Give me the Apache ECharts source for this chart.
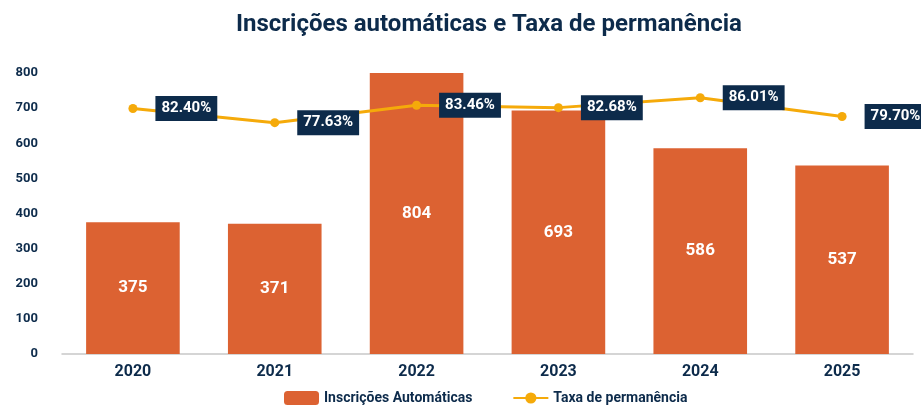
<!DOCTYPE html>
<html>
<head>
<meta charset="utf-8">
<script src="https://cdn.jsdelivr.net/npm/echarts@6/dist/echarts.min.js"></script>
<style>
  html, body { margin: 0; padding: 0; background: #fff; }
  #chart { width: 921px; height: 408px; }
</style>
</head>
<body>
<div id="chart"></div>
<script>
// data
const years = ['2020', '2021', '2022', '2023', '2024', '2025'];
const inscricoes = [375, 371, 804, 693, 586, 537];
const permanencia = [82.40, 77.63, 83.46, 82.68, 86.01, 79.70];

const navy = '#0d2b4b';
const barColor = '#dc6232';
const lineColor = '#f5aa0a';
const font = 'Roboto';

const chart = echarts.init(document.getElementById('chart'));

chart.setOption({
  animation: false,
  title: {
    text: 'Inscrições automáticas e Taxa de permanência',
    left: 231,
    top: 8,
    textStyle: { color: navy, fontFamily: font, fontWeight: 'bold', fontSize: 24 }
  },
  legend: {
    bottom: -2,
    left: 279,
    itemWidth: 35,
    itemHeight: 14,
    itemGap: 40,
    textStyle: { color: navy, fontFamily: font, fontWeight: 'bold', fontSize: 14 },
    data: ['Inscrições Automáticas', 'Taxa de permanência']
  },
  grid: { left: 62, right: 8, top: 73, bottom: 54 },
  xAxis: {
    type: 'category',
    data: years,
    axisLine: { lineStyle: { color: '#c8c8c8', width: 1.5 } },
    axisTick: { show: false },
    axisLabel: { color: navy, fontFamily: font, fontWeight: 'bold', fontSize: 16, margin: 10 }
  },
  yAxis: [
    {
      type: 'value',
      min: 0,
      max: 800,
      interval: 100,
      splitLine: { show: false },
      axisLabel: { color: navy, fontFamily: font, fontWeight: 'bold', fontSize: 13, margin: 24 }
    },
    {
      type: 'value',
      min: 0,
      max: 94.3,
      show: false,
      splitLine: { show: false }
    }
  ],
  series: [
    {
      name: 'Inscrições Automáticas',
      type: 'bar',
      barWidth: '66%',
      data: inscricoes,
      itemStyle: { color: barColor },
      label: {
        show: true,
        position: 'inside',
        color: '#fff',
        fontFamily: font,
        fontWeight: 'bold',
        fontSize: 17
      }
    },
    {
      name: 'Taxa de permanência',
      type: 'line',
      yAxisIndex: 1,
      data: permanencia,
      symbol: 'circle',
      symbolSize: 9,
      lineStyle: { color: lineColor, width: 3 },
      itemStyle: { color: lineColor },
      z: 5,
      label: {
        show: true,
        position: 'right',
        distance: 18,
        formatter: (p) => p.value.toFixed(2) + '%',
        color: '#fff',
        backgroundColor: navy,
        padding: [5, 6, 5, 6],
        fontFamily: font,
        fontWeight: 'bold',
        fontSize: 15
      }
    }
  ]
});
</script>
</body>
</html>
